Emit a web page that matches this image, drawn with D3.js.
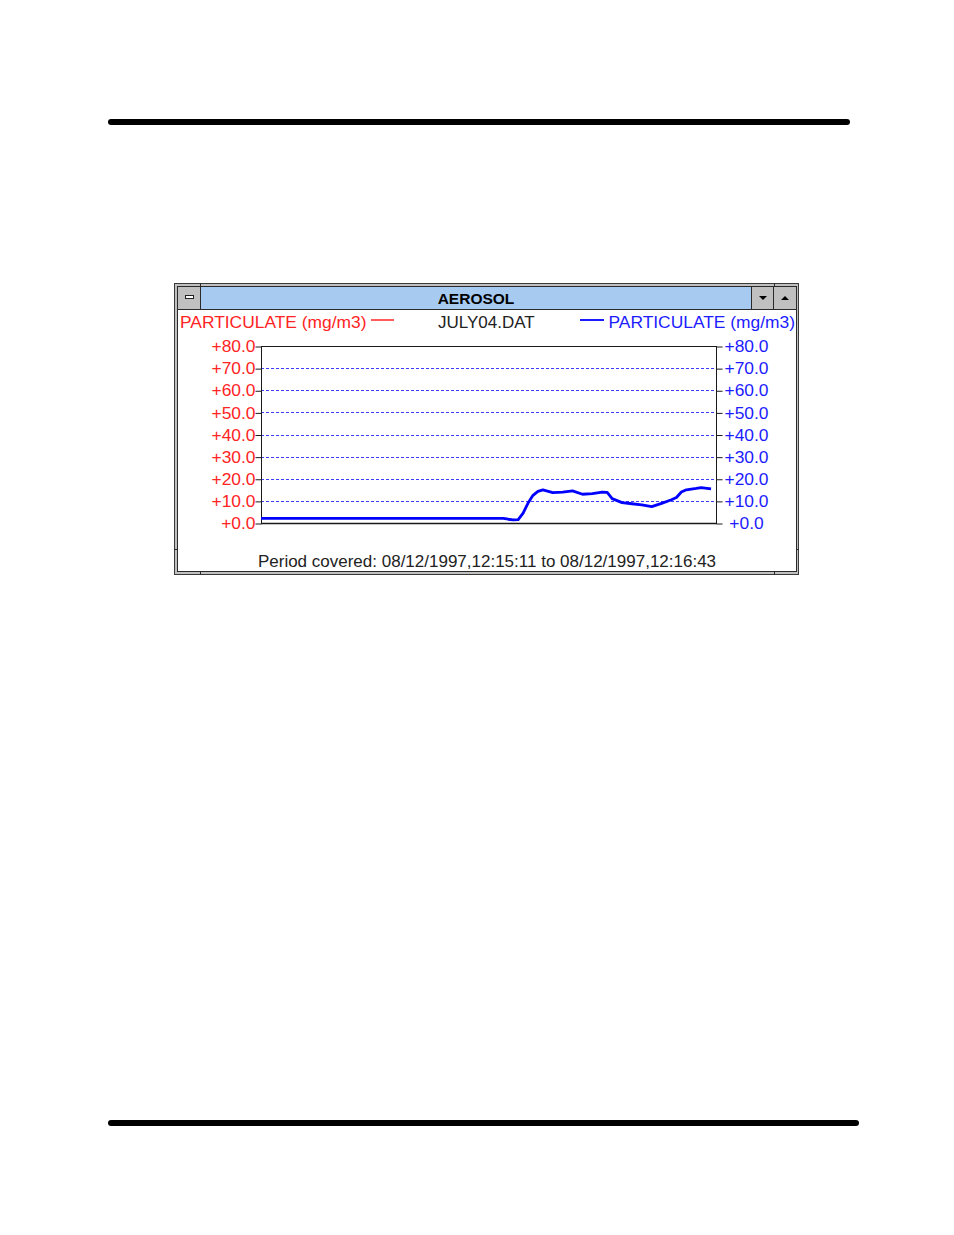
<!DOCTYPE html>
<html>
<head>
<meta charset="utf-8">
<script src="https://cdn.jsdelivr.net/npm/d3@7"></script>
<style>
  html, body { margin: 0; padding: 0; background: #fff; }
  svg { display: block; }
  text { font-family: "Liberation Sans", Arial, sans-serif; }
</style>
</head>
<body>
<svg id="chart" width="954" height="1235"></svg>
<script>
// ---- data ----
const windowTitle = "AEROSOL";
const fileName = "JULY04.DAT";
const seriesName = "PARTICULATE (mg/m3)";
const periodText = "Period covered: 08/12/1997,12:15:11 to 08/12/1997,12:16:43";
const periodSeconds = 92; // 12:15:11 -> 12:16:43
const seconds = [0, 49, 50, 51, 52, 53, 54, 55, 56, 57, 59, 61, 63, 65, 67, 69, 70, 71, 73, 75, 77, 79, 81, 83, 84, 85, 86, 88, 89, 91];
const particulate = [2.1, 2.1, 1.7, 1.4, 1.5, 4.5, 9.0, 12.5, 14.3, 15.0, 13.7, 14.0, 14.5, 13.0, 13.3, 14.0, 13.8, 11.0, 9.2, 8.7, 8.2, 7.4, 8.9, 10.5, 11.5, 14.0, 15.0, 15.6, 16.0, 15.4];
const tickValues = [0, 10, 20, 30, 40, 50, 60, 70, 80];
const tickLabels = ["+0.0", "+10.0", "+20.0", "+30.0", "+40.0", "+50.0", "+60.0", "+70.0", "+80.0"];

const svg = d3.select("#chart");

// ---- page rules ----
svg.append("rect").attr("x", 108).attr("y", 119).attr("width", 742).attr("height", 6).attr("rx", 3).attr("fill", "#000");
svg.append("rect").attr("x", 108).attr("y", 1120).attr("width", 751).attr("height", 6).attr("rx", 3).attr("fill", "#000");

// ---- window frame ----
const W = { x0: 174, y0: 283, x1: 799, y1: 575 };
svg.append("rect").attr("x", W.x0 + 0.5).attr("y", W.y0 + 0.5)
  .attr("width", W.x1 - W.x0 - 1).attr("height", W.y1 - W.y0 - 1)
  .attr("fill", "#c0c0c0").attr("stroke", "#3a3a3a");
svg.append("rect").attr("x", 177.5).attr("y", 286.5).attr("width", 619).attr("height", 285)
  .attr("fill", "#fff").attr("stroke", "#2a2a2a");
svg.append("rect").attr("x", 178).attr("y", 287).attr("width", 618).attr("height", 22).attr("fill", "#a6caf0");
svg.append("line").attr("x1", 178).attr("x2", 796).attr("y1", 309.5).attr("y2", 309.5).attr("stroke", "#2a2a2a");
svg.append("rect").attr("x", 178).attr("y", 287).attr("width", 22).attr("height", 22).attr("fill", "#c0c0c0");
svg.append("line").attr("x1", 200.5).attr("x2", 200.5).attr("y1", 283).attr("y2", 310).attr("stroke", "#2a2a2a");
svg.append("rect").attr("x", 185.5).attr("y", 295.5).attr("width", 8).attr("height", 3).attr("fill", "#fff").attr("stroke", "#222");
[[752, "down"], [774, "up"]].forEach(([bx, dir]) => {
  svg.append("rect").attr("x", bx).attr("y", 287).attr("width", 22).attr("height", 22).attr("fill", "#c0c0c0");
  svg.append("line").attr("x1", bx - 0.5).attr("x2", bx - 0.5).attr("y1", 287).attr("y2", 309).attr("stroke", "#2a2a2a");
  const cx = bx + 11, cy = 298;
  const pts = dir === "down"
    ? [[cx - 4, cy - 2], [cx + 4, cy - 2], [cx, cy + 2]]
    : [[cx - 4, cy + 2], [cx + 4, cy + 2], [cx, cy - 2]];
  svg.append("polygon").attr("points", pts.map(p => p.join(",")).join(" ")).attr("fill", "#000");
});
svg.append("line").attr("x1", 774.5).attr("x2", 774.5).attr("y1", 283).attr("y2", 287).attr("stroke", "#2a2a2a");
[[200.5, 571, 200.5, 575], [774.5, 571, 774.5, 575], [174, 549.5, 178, 549.5], [796, 549.5, 799, 549.5]].forEach(d => {
  svg.append("line").attr("x1", d[0]).attr("y1", d[1]).attr("x2", d[2]).attr("y2", d[3]).attr("stroke", "#2a2a2a");
});

svg.append("text").attr("x", 476).attr("y", 304).attr("text-anchor", "middle")
  .attr("font-size", 15.5).attr("font-weight", "bold").attr("fill", "#000").text(windowTitle);

// ---- legend row ----
const red = "#ff2424", blue = "#1c1cff";
svg.append("text").attr("x", 180).attr("y", 328).attr("font-size", 17.4).attr("fill", red).text(seriesName);
svg.append("line").attr("x1", 371).attr("x2", 394).attr("y1", 320).attr("y2", 320).attr("stroke", red).attr("stroke-width", 1.5);
svg.append("text").attr("x", 438).attr("y", 328).attr("font-size", 17).attr("fill", "#222").text(fileName);
svg.append("line").attr("x1", 580).attr("x2", 604).attr("y1", 320).attr("y2", 320).attr("stroke", blue).attr("stroke-width", 2);
svg.append("text").attr("x", 795).attr("y", 328).attr("text-anchor", "end").attr("font-size", 17.4).attr("fill", blue).text(seriesName);

// ---- plot ----
const x = d3.scaleLinear().domain([0, periodSeconds]).range([261, 716]);
const y = d3.scaleLinear().domain([0, 80]).range([523, 346]);

svg.append("g").selectAll("line").data(tickValues.filter(v => v > 0 && v < 80)).join("line")
  .attr("x1", x(0)).attr("x2", x(periodSeconds))
  .attr("y1", d => Math.round(y(d)) + 0.5).attr("y2", d => Math.round(y(d)) + 0.5)
  .attr("stroke", "#3c3cff").attr("stroke-dasharray", "3,2").attr("stroke-width", 1);

svg.append("rect").attr("x", x(0) + 0.5).attr("y", y(80) + 0.5)
  .attr("width", x(periodSeconds) - x(0)).attr("height", y(0) - y(80))
  .attr("fill", "none").attr("stroke", "#1a1a1a");
svg.append("line").attr("x1", x(0)).attr("x2", x(periodSeconds) + 1)
  .attr("y1", y(0) + 0.5).attr("y2", y(0) + 0.5).attr("stroke", "#1a1a1a").attr("stroke-width", 1.6);

const fmt = d => tickLabels[tickValues.indexOf(d)];

const leftAxis = svg.append("g").attr("transform", `translate(${x(0) + 0.5},0.5)`)
  .call(d3.axisLeft(y).tickValues(tickValues).tickFormat(fmt).tickSize(6).tickPadding(0).tickSizeOuter(0));
leftAxis.select(".domain").remove();
leftAxis.selectAll("line").attr("stroke", "#1a1a1a");
leftAxis.selectAll("text").attr("fill", red).attr("font-size", 17.4).attr("font-family", "Liberation Sans, Arial, sans-serif").attr("dy", "0.3em");

const rightAxis = svg.append("g").attr("transform", `translate(${x(periodSeconds) + 0.5},0.5)`)
  .call(d3.axisRight(y).tickValues(tickValues).tickFormat(fmt).tickSize(6).tickPadding(0).tickSizeOuter(0));
rightAxis.select(".domain").remove();
rightAxis.selectAll("line").attr("stroke", "#1a1a1a");
rightAxis.selectAll("text").attr("fill", blue).attr("font-size", 17.4).attr("font-family", "Liberation Sans, Arial, sans-serif")
  .attr("text-anchor", "middle").attr("x", 30).attr("dy", "0.3em");

const pts = seconds.map((s, i) => [s, particulate[i]]);
svg.append("path").datum(pts)
  .attr("d", d3.line().x(d => x(d[0])).y(d => y(d[1])))
  .attr("fill", "none").attr("stroke", "#0000ff").attr("stroke-width", 2.8).attr("stroke-linejoin", "round");

svg.append("text").attr("x", 487).attr("y", 567).attr("text-anchor", "middle")
  .attr("font-size", 17).attr("fill", "#222").text(periodText);
</script>
</body>
</html>
